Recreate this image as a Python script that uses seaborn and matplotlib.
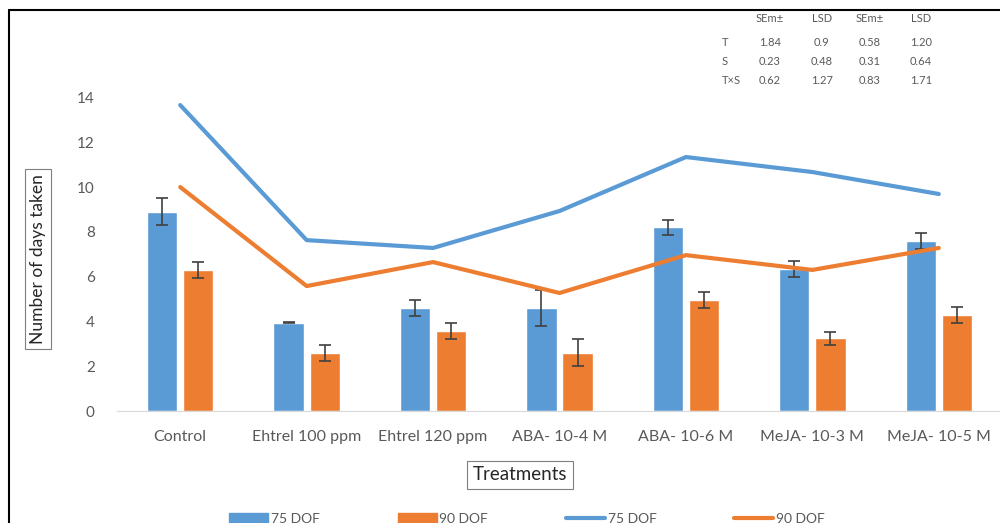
import matplotlib
matplotlib.use('Agg')
import matplotlib.pyplot as plt
from matplotlib.lines import Line2D
from matplotlib.patches import Patch
import seaborn as sns
import pandas as pd
import numpy as np

treatments = ['Control', 'Ehtrel 100 ppm', 'Ehtrel 120 ppm', 'ABA- 10-4 M',
              'ABA- 10-6 M', 'MeJA- 10-3 M', 'MeJA- 10-5 M']

# bars
bar_75 = [8.9, 3.95, 4.6, 4.6, 8.2, 6.35, 7.6]
bar_90 = [6.3, 2.6, 3.57, 2.6, 4.95, 3.25, 4.3]
err_75 = [0.6, 0.02, 0.35, 0.8, 0.35, 0.35, 0.35]
err_90 = [0.35, 0.35, 0.35, 0.6, 0.35, 0.3, 0.35]

# lines
line_75 = [13.66, 7.63, 7.28, 8.93, 11.34, 10.67, 9.69]
line_90 = [10.0, 5.58, 6.65, 5.27, 6.96, 6.3, 7.28]

# stats table
stat_cols = ['SEm\u00b1', 'LSD', 'SEm\u00b1', 'LSD']
stat_rows = ['T', 'S', 'T\u00d7S']
stat_vals = [['1.84', '0.9', '0.58', '1.20'],
             ['0.23', '0.48', '0.31', '0.64'],
             ['0.62', '1.27', '0.83', '1.71']]

blue = '#5B9BD5'
orange = '#ED7D31'
grey = '#595959'

sns.set_style('white')
plt.rcParams['font.family'] = ['Lato', 'DejaVu Sans']

df = pd.DataFrame({
    'Treatment': treatments * 2,
    'Days': bar_75 + bar_90,
    'DOF': ['75 DOF'] * 7 + ['90 DOF'] * 7,
})

fig = plt.figure(figsize=(10, 5.23), dpi=100)
ax = fig.add_axes([0.117, 0.2141, 0.885, 0.6424])

sns.barplot(data=df, x='Treatment', y='Days', hue='DOF', order=treatments,
            palette=[blue, orange], width=0.57, gap=0.16, errorbar=None,
            ax=ax, legend=False, saturation=1)

# error bars on the bar centres
bars = sorted(ax.patches, key=lambda p: p.get_x())
xs = [p.get_x() + p.get_width() / 2 for p in bars]
hs = [p.get_height() for p in bars]
errs = [e for pair in zip(err_75, err_90) for e in pair]
ax.errorbar(xs, hs, yerr=errs, fmt='none', ecolor='#404040', elinewidth=1.2,
            capsize=4, capthick=1.2)

x = np.arange(len(treatments))
sns.lineplot(x=x, y=line_75, color=blue, linewidth=3, ax=ax)
sns.lineplot(x=x, y=line_90, color=orange, linewidth=3, ax=ax)

ax.set_xlim(-0.5, 6.5)
ax.set_ylim(0, 15)
ax.set_yticks(range(0, 15, 2))
ax.set_xticks(x)
ax.set_xticklabels(treatments)
ax.tick_params(axis='x', length=0, labelsize=11.5, labelcolor=grey, pad=14)
ax.tick_params(axis='y', length=0, labelsize=11, labelcolor=grey, pad=16)
for s in ['top', 'right', 'left']:
    ax.spines[s].set_visible(False)
ax.spines['bottom'].set_color('#d9d9d9')
ax.set_xlabel('')
ax.set_ylabel('')

box = dict(boxstyle='square,pad=0.3', fc='white', ec='#7f7f7f', lw=0.8)
fig.text(0.038, 0.505, 'Number of days taken', rotation=90, ha='center',
         va='center', fontsize=12.5, color='#262626', bbox=box)
fig.text(0.52, 0.092, 'Treatments', ha='center', va='center', fontsize=13.5,
         color='#262626', bbox=box)

# stats table
col_x = [0.770, 0.822, 0.870, 0.921]
row_y = [0.918, 0.882, 0.846]
for cx, c in zip(col_x, stat_cols):
    fig.text(cx, 0.965, c, ha='center', va='center', fontsize=8, color=grey)
for ry, r, vals in zip(row_y, stat_rows, stat_vals):
    fig.text(0.722, ry, r, ha='left', va='center', fontsize=8, color=grey)
    for cx, v in zip(col_x, vals):
        fig.text(cx, ry, v, ha='center', va='center', fontsize=8, color=grey)

handles = [Patch(color=blue), Patch(color=orange),
           Line2D([], [], color=blue, lw=3), Line2D([], [], color=orange, lw=3)]
labels = ['75 DOF', '90 DOF', '75 DOF', '90 DOF']
fig.legend(handles, labels, ncol=4, loc='center', bbox_to_anchor=(0.527, 0.008),
           frameon=False, fontsize=10, handlelength=2.8, columnspacing=5.6,
           handletextpad=0.2, labelcolor=grey)

# figure border (left and top)
fig.add_artist(Line2D([0.009, 0.009], [0, 0.981], color='black', lw=1.5,
                      transform=fig.transFigure))
fig.add_artist(Line2D([0.009, 1], [0.981, 0.981], color='black', lw=1.5,
                      transform=fig.transFigure))

fig.savefig('out.png', dpi=100)
